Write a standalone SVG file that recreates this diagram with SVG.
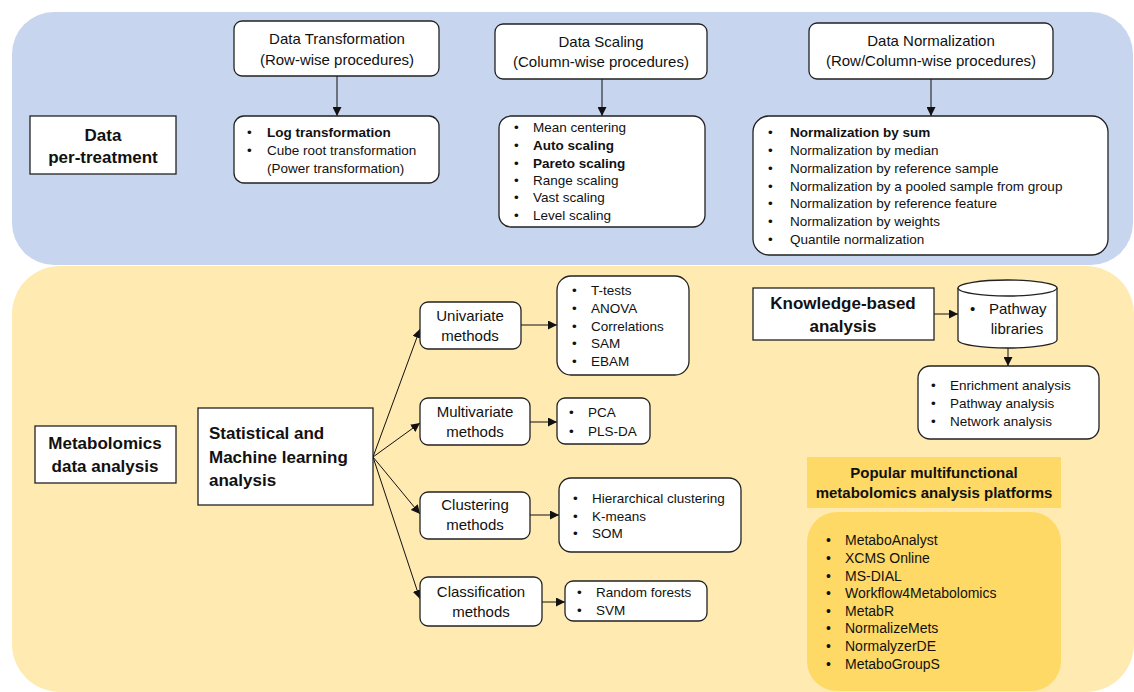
<svg xmlns="http://www.w3.org/2000/svg" width="1134" height="692" viewBox="0 0 1134 692">
<defs>
<style>
.t{font-family:"Liberation Sans",Arial,sans-serif;fill:#111}
.h{font-size:15px;text-anchor:middle}
.b{font-weight:bold}
.big{font-size:17px;font-weight:bold}
.li{font-size:13.5px}
.box{fill:#fff;stroke:#222;stroke-width:1.3}
.ln{stroke:#111;stroke-width:1;fill:none}
</style>
<marker id="ah" viewBox="0 0 10 10" refX="10" refY="5" markerWidth="9" markerHeight="9" markerUnits="userSpaceOnUse" orient="auto">
<path d="M0,0 L10,5 L0,10 z" fill="#111"/>
</marker>
</defs>
<rect width="1134" height="692" fill="#fff"/>
<g id="panel-pretreatment"><rect x="12" y="12" width="1121" height="253" rx="42" fill="#C7D5EE"/></g>
<g id="panel-analysis"><rect x="12" y="266" width="1122" height="426" rx="48" fill="#FFEAB1"/></g>

<g id="connectors">
<line class="ln" x1="337" y1="76" x2="337" y2="116" marker-end="url(#ah)"/>
<line class="ln" x1="602" y1="79" x2="602" y2="116" marker-end="url(#ah)"/>
<line class="ln" x1="931" y1="79" x2="931" y2="116" marker-end="url(#ah)"/>
<line class="ln" x1="373" y1="457" x2="420" y2="329" marker-end="url(#ah)"/>
<line class="ln" x1="373" y1="457" x2="420" y2="423" marker-end="url(#ah)"/>
<line class="ln" x1="373" y1="457" x2="420" y2="514" marker-end="url(#ah)"/>
<line class="ln" x1="373" y1="457" x2="420" y2="599" marker-end="url(#ah)"/>
<line class="ln" x1="521" y1="325" x2="557" y2="325" marker-end="url(#ah)"/>
<line class="ln" x1="530" y1="422" x2="557" y2="422" marker-end="url(#ah)"/>
<line class="ln" x1="530" y1="515" x2="559" y2="515" marker-end="url(#ah)"/>
<line class="ln" x1="542" y1="602" x2="565" y2="602" marker-end="url(#ah)"/>
<line class="ln" x1="934" y1="314" x2="958" y2="314" marker-end="url(#ah)"/>
<line class="ln" x1="1008" y1="348" x2="1008" y2="366" marker-end="url(#ah)"/>
</g>

<g id="data-pretreatment">
<rect class="box" x="30" y="116" width="146" height="58"/>
<text class="t big" x="103" y="141" text-anchor="middle">Data</text>
<text class="t big" x="103" y="163" text-anchor="middle">per-treatment</text>
</g>

<g id="data-transformation">
<rect class="box" x="234" y="21" width="205" height="55" rx="8"/>
<text class="t h" x="337" y="44">Data Transformation</text>
<text class="t h" x="337" y="65">(Row-wise procedures)</text>
</g>
<g id="transformation-list">
<rect class="box" x="234" y="116" width="205" height="67" rx="10"/>
<g class="t li">
<text x="247" y="137">•</text><text x="267" y="137" class="b">Log transformation</text>
<text x="247" y="155">•</text><text x="267" y="155">Cube root transformation</text>
<text x="267" y="173">(Power transformation)</text>
</g>
</g>

<g id="data-scaling">
<rect class="box" x="495" y="24" width="212" height="55" rx="8"/>
<text class="t h" x="601" y="47">Data Scaling</text>
<text class="t h" x="601" y="67">(Column-wise procedures)</text>
</g>
<g id="scaling-list">
<rect class="box" x="499" y="116" width="206" height="111" rx="12"/>
<g class="t li">
<text x="514" y="132">•</text><text x="533" y="132">Mean centering</text>
<text x="514" y="150">•</text><text x="533" y="150" class="b">Auto scaling</text>
<text x="514" y="168">•</text><text x="533" y="168" class="b">Pareto scaling</text>
<text x="514" y="185">•</text><text x="533" y="185">Range scaling</text>
<text x="514" y="202">•</text><text x="533" y="202">Vast scaling</text>
<text x="514" y="220">•</text><text x="533" y="220">Level scaling</text>
</g>
</g>

<g id="data-normalization">
<rect class="box" x="809" y="23" width="244" height="56" rx="8"/>
<text class="t h" x="931" y="46">Data Normalization</text>
<text class="t h" x="931" y="66">(Row/Column-wise procedures)</text>
</g>
<g id="normalization-list">
<rect class="box" x="753" y="116" width="355" height="139" rx="16"/>
<g class="t li">
<text x="768" y="137">•</text><text x="790" y="137" class="b">Normalization by sum</text>
<text x="768" y="155">•</text><text x="790" y="155">Normalization by median</text>
<text x="768" y="173">•</text><text x="790" y="173">Normalization by reference sample</text>
<text x="768" y="191">•</text><text x="790" y="191">Normalization by a pooled sample from group</text>
<text x="768" y="208">•</text><text x="790" y="208">Normalization by reference feature</text>
<text x="768" y="226">•</text><text x="790" y="226">Normalization by weights</text>
<text x="768" y="244">•</text><text x="790" y="244">Quantile normalization</text>
</g>
</g>

<g id="metabolomics-data-analysis">
<rect class="box" x="35" y="426" width="141" height="57"/>
<text class="t big" x="105" y="449" text-anchor="middle">Metabolomics</text>
<text class="t big" x="105" y="472" text-anchor="middle">data analysis</text>
</g>

<g id="statistical-ml">
<rect class="box" x="198" y="408" width="175" height="97"/>
<text class="t big" x="209" y="439">Statistical and</text>
<text class="t big" x="209" y="463">Machine learning</text>
<text class="t big" x="209" y="486">analysis</text>
</g>

<g id="univariate">
<rect class="box" x="420" y="302" width="101" height="47" rx="8"/>
<text class="t h" x="470" y="321">Univariate</text>
<text class="t h" x="470" y="341">methods</text>
</g>
<g id="univariate-list">
<rect class="box" x="557" y="276" width="132" height="99" rx="14"/>
<g class="t li">
<text x="572" y="295">•</text><text x="591" y="295">T-tests</text>
<text x="572" y="313">•</text><text x="591" y="313">ANOVA</text>
<text x="572" y="331">•</text><text x="591" y="331">Correlations</text>
<text x="572" y="348">•</text><text x="591" y="348">SAM</text>
<text x="572" y="366">•</text><text x="591" y="366">EBAM</text>
</g>
</g>

<g id="multivariate">
<rect class="box" x="420" y="398" width="110" height="47" rx="8"/>
<text class="t h" x="475" y="417">Multivariate</text>
<text class="t h" x="475" y="437">methods</text>
</g>
<g id="multivariate-list">
<rect class="box" x="557" y="398" width="93" height="46" rx="8"/>
<g class="t li">
<text x="569" y="417">•</text><text x="588" y="417">PCA</text>
<text x="569" y="436">•</text><text x="588" y="436">PLS-DA</text>
</g>
</g>

<g id="clustering">
<rect class="box" x="420" y="492" width="110" height="47" rx="8"/>
<text class="t h" x="475" y="510">Clustering</text>
<text class="t h" x="475" y="530">methods</text>
</g>
<g id="clustering-list">
<rect class="box" x="559" y="478" width="182" height="74" rx="12"/>
<g class="t li">
<text x="573" y="503">•</text><text x="592" y="503">Hierarchical clustering</text>
<text x="573" y="521">•</text><text x="592" y="521">K-means</text>
<text x="573" y="538">•</text><text x="592" y="538">SOM</text>
</g>
</g>

<g id="classification">
<rect class="box" x="420" y="577" width="122" height="49" rx="8"/>
<text class="t h" x="481" y="597">Classification</text>
<text class="t h" x="481" y="617">methods</text>
</g>
<g id="classification-list">
<rect class="box" x="565" y="581" width="142" height="40" rx="8"/>
<g class="t li">
<text x="577" y="597">•</text><text x="596" y="597">Random forests</text>
<text x="577" y="615">•</text><text x="596" y="615">SVM</text>
</g>
</g>

<g id="knowledge-based">
<rect class="box" x="753" y="288" width="181" height="52"/>
<text class="t big" x="843" y="309" text-anchor="middle">Knowledge-based</text>
<text class="t big" x="843" y="332" text-anchor="middle">analysis</text>
</g>

<g id="pathway-libraries">
<path class="box" d="M958,288 V340 A49.5,8 0 0 0 1057,340 V288"/>
<ellipse class="box" cx="1007.5" cy="288" rx="49.5" ry="8"/>
<text class="t" x="970" y="314" style="font-size:15px">•</text>
<text class="t" x="989" y="314" style="font-size:15px">Pathway</text>
<text class="t" x="1017" y="334" style="font-size:15px" text-anchor="middle">libraries</text>
</g>

<g id="pathway-analysis-list">
<rect class="box" x="918" y="366" width="181" height="73" rx="12"/>
<g class="t li">
<text x="931" y="390">•</text><text x="950" y="390">Enrichment analysis</text>
<text x="931" y="408">•</text><text x="950" y="408">Pathway analysis</text>
<text x="931" y="426">•</text><text x="950" y="426">Network analysis</text>
</g>
</g>

<g id="platforms-header">
<rect x="807" y="457" width="254" height="51" fill="#FFD966"/>
<text class="t h b" x="934" y="478">Popular multifunctional</text>
<text class="t h b" x="934" y="498">metabolomics analysis platforms</text>
</g>

<g id="platforms-list">
<rect x="807" y="512" width="254" height="179" rx="30" fill="#FFD966"/>
<g class="t" style="font-size:14px">
<text x="826" y="545">•</text><text x="845" y="545">MetaboAnalyst</text>
<text x="826" y="563">•</text><text x="845" y="563">XCMS Online</text>
<text x="826" y="581">•</text><text x="845" y="581">MS-DIAL</text>
<text x="826" y="598">•</text><text x="845" y="598">Workflow4Metabolomics</text>
<text x="826" y="616">•</text><text x="845" y="616">MetabR</text>
<text x="826" y="633">•</text><text x="845" y="633">NormalizeMets</text>
<text x="826" y="651">•</text><text x="845" y="651">NormalyzerDE</text>
<text x="826" y="669">•</text><text x="845" y="669">MetaboGroupS</text>
</g>
</g>
</svg>
